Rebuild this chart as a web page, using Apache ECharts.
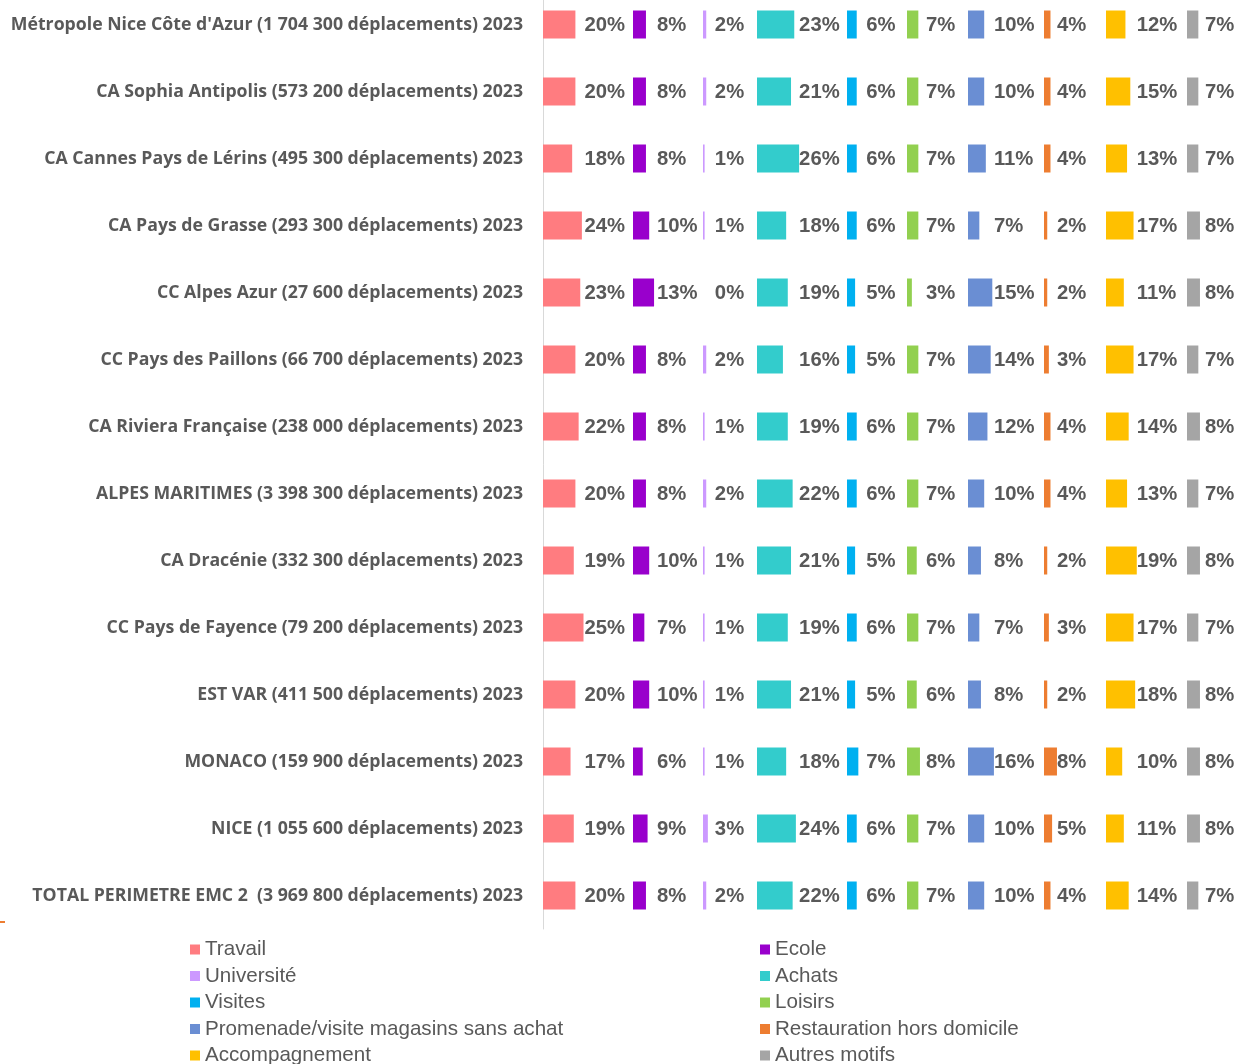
<!DOCTYPE html>
<html>
<head>
<meta charset="utf-8">
<script src="https://cdn.jsdelivr.net/npm/echarts@6/dist/echarts.min.js"></script>
<style>
html, body { margin: 0; padding: 0; background: #fff; }
#main { width: 1238px; height: 1064px; }
</style>
</head>
<body>
<div id="main"></div>
<script>
// territoires (lignes)
const territoires = [
    "Métropole Nice Côte d'Azur (1 704 300 déplacements) 2023",
    'CA Sophia Antipolis (573 200 déplacements) 2023',
    'CA Cannes Pays de Lérins (495 300 déplacements) 2023',
    'CA Pays de Grasse (293 300 déplacements) 2023',
    'CC Alpes Azur (27 600 déplacements) 2023',
    'CC Pays des Paillons (66 700 déplacements) 2023',
    'CA Riviera Française (238 000 déplacements) 2023',
    'ALPES MARITIMES (3 398 300 déplacements) 2023',
    'CA Dracénie (332 300 déplacements) 2023',
    'CC Pays de Fayence (79 200 déplacements) 2023',
    'EST VAR (411 500 déplacements) 2023',
    'MONACO (159 900 déplacements) 2023',
    'NICE (1 055 600 déplacements) 2023',
    'TOTAL PERIMETRE EMC 2  (3 969 800 déplacements) 2023'
]

// motifs (colonnes)
const motifs = ['Travail', 'Ecole', 'Université', 'Achats', 'Visites', 'Loisirs',
    'Promenade/visite magasins sans achat', 'Restauration hors domicile', 'Accompagnement', 'Autres motifs']

// parts en % par motif, dans l'ordre des territoires
const travail        = [20, 20, 18, 24, 23, 20, 22, 20, 19, 25, 20, 17, 19, 20]
const ecole          = [8, 8, 8, 10, 13, 8, 8, 8, 10, 7, 10, 6, 9, 8]
const universite     = [2, 2, 1, 1, 0, 2, 1, 2, 1, 1, 1, 1, 3, 2]
const achats         = [23, 21, 26, 18, 19, 16, 19, 22, 21, 19, 21, 18, 24, 22]
const visites        = [6, 6, 6, 6, 5, 5, 6, 6, 5, 6, 5, 7, 6, 6]
const loisirs        = [7, 7, 7, 7, 3, 7, 7, 7, 6, 7, 6, 8, 7, 7]
const promenade      = [10, 10, 11, 7, 15, 14, 12, 10, 8, 7, 8, 16, 10, 10]
const restauration   = [4, 4, 4, 2, 2, 3, 4, 4, 2, 3, 2, 8, 5, 4]
const accompagnement = [12, 15, 13, 17, 11, 17, 14, 13, 19, 17, 18, 10, 11, 14]
const autres         = [7, 7, 7, 8, 8, 7, 8, 7, 8, 7, 8, 8, 8, 7]

const valeurs = [travail, ecole, universite, achats, visites, loisirs, promenade, restauration, accompagnement, autres]

// mise en page
const couleurs = ['#FF7C80', '#9900CC', '#CC99FF', '#33CCCC', '#00B0F0', '#92D050', '#6A8ED3', '#ED7D31', '#FFC000', '#A5A5A5']
const debuts = [543, 633, 703, 757, 847, 907, 968, 1044, 1106, 1187]
const ecarts = [1, 3, 7, 0, 8, 6, 0, 0, 0, 5]
const pxParPct = 1.62
const largeurPanneau = 60
const gris = '#595959'

const chart = echarts.init(document.getElementById('main'))

const grids = [], xAxes = [], yAxes = [], series = []
valeurs.forEach((vals, i) => {
    grids.push({ left: debuts[i], top: -9, width: largeurPanneau, height: 938, outerBoundsMode: 'none', containLabel: false })
    xAxes.push({ gridIndex: i, type: 'value', min: 0, max: largeurPanneau / pxParPct, show: false })
    yAxes.push({
        gridIndex: i,
        type: 'category',
        data: territoires,
        inverse: true,
        axisLine: { show: i === 0, lineStyle: { color: '#D9D9D9', width: 1 } },
        axisTick: { show: false },
        axisLabel: {
            show: i === 0,
            margin: 20,
            color: gris,
            fontFamily: 'Open Sans',
            fontWeight: 'bold',
            fontSize: 17.7
        },
        splitLine: { show: false }
    })
    series.push({
        name: motifs[i],
        type: 'bar',
        xAxisIndex: i,
        yAxisIndex: i,
        data: vals,
        barWidth: 28,
        barGap: '-100%',
        itemStyle: { color: couleurs[i] },
        silent: true
    })
    // série invisible portant l'étiquette, calée sur la plus grande barre de la colonne
    const maxCol = Math.max(...vals)
    series.push({
        name: '_lbl' + i,
        type: 'bar',
        xAxisIndex: i,
        yAxisIndex: i,
        data: vals.map(() => maxCol),
        barWidth: 28,
        barGap: '-100%',
        itemStyle: { color: 'rgba(0,0,0,0)' },
        silent: true,
        label: {
            show: true,
            position: 'right',
            distance: ecarts[i],
            offset: [0, 1],
            color: gris,
            fontFamily: 'Liberation Sans',
            fontWeight: 'bold',
            fontSize: 20.3,
            formatter: p => vals[p.dataIndex] + '%'
        }
    })
})

const legende = (left, noms) => ({
    left: left,
    top: 939,
    height: 200,
    orient: 'vertical',
    padding: 0,
    itemGap: 5.5,
    itemWidth: 10,
    itemHeight: 10,
    icon: 'rect',
    selectedMode: false,
    data: noms,
    textStyle: { color: gris, fontFamily: 'Liberation Sans', fontSize: 20.6, lineHeight: 20 }
})

var option = {
    animation: false,
    backgroundColor: '#fff',
    grid: grids,
    xAxis: xAxes,
    yAxis: yAxes,
    legend: [
        legende(190, motifs.filter((m, k) => k % 2 === 0)),
        legende(760, motifs.filter((m, k) => k % 2 === 1))
    ],
    graphic: [
        { type: 'rect', left: 0, top: 921, shape: { width: 5, height: 2 }, style: { fill: '#ED7D31' } }
    ],
    series: series
}

chart.setOption(option)
</script>
</body>
</html>
